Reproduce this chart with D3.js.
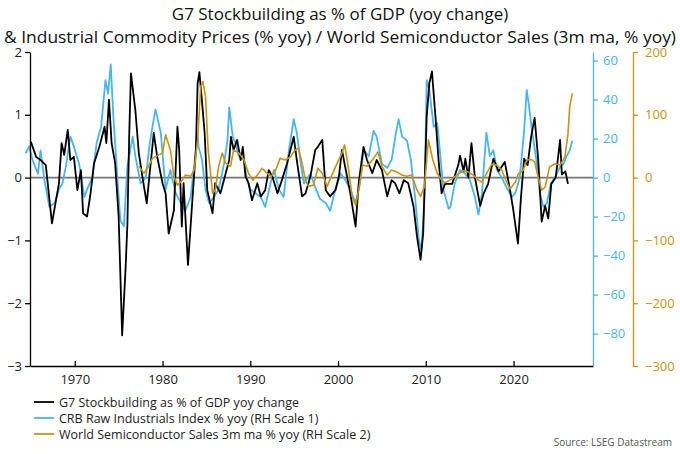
<!DOCTYPE html>
<html>
<head>
<meta charset="utf-8">
<script src="https://cdn.jsdelivr.net/npm/d3@7"></script>
<style>
  body { margin: 0; background: #fff; }
  svg text { font-family: "Open Sans", "Noto Sans", sans-serif; }
</style>
</head>
<body>
<div id="chart"></div>
<script>
// G7 stockbuilding, % of GDP yoy change (left scale)
var stockData = [[1965.0,0.57],[1965.6,0.33],[1966.1,0.28],[1966.7,0.2],[1967.4,-0.73],[1967.8,-0.41],[1968.2,-0.09],[1968.5,0.55],[1968.8,0.36],[1969.2,0.76],[1969.5,0.28],[1969.9,0.33],[1970.3,-0.2],[1970.7,0.12],[1970.95,-0.57],[1971.4,-0.62],[1971.8,-0.25],[1972.2,0.23],[1972.8,0.49],[1973.4,0.81],[1973.6,0.55],[1973.9,1.24],[1974.2,0.55],[1974.6,0.23],[1975.0,-0.62],[1975.4,-2.51],[1975.8,-1.42],[1976.0,-0.73],[1976.2,0.65],[1976.4,1.66],[1976.9,1.08],[1977.3,0.39],[1977.7,0.02],[1978.2,-0.41],[1978.5,0.02],[1979.0,0.71],[1979.4,0.33],[1980.0,-0.09],[1980.35,-0.25],[1980.7,-0.89],[1981.3,-0.52],[1981.7,0.81],[1981.9,0.44],[1982.2,-0.78],[1982.4,-0.09],[1982.9,-1.39],[1983.4,-0.36],[1983.8,0.44],[1984.0,1.5],[1984.2,1.68],[1984.5,1.21],[1984.8,0.71],[1985.1,-0.2],[1985.7,-0.57],[1986.0,-0.09],[1986.6,-0.25],[1987.2,0.07],[1987.6,0.28],[1987.8,0.65],[1988.1,0.44],[1988.5,0.6],[1988.9,0.28],[1989.15,0.49],[1989.45,0.02],[1989.8,-0.09],[1990.2,-0.36],[1990.8,-0.09],[1991.2,-0.3],[1991.7,-0.2],[1992.1,0.12],[1992.5,0.02],[1993.1,-0.25],[1993.6,-0.04],[1994.2,0.23],[1994.95,0.65],[1995.3,0.28],[1995.9,-0.3],[1996.3,-0.25],[1996.85,0.02],[1997.4,0.44],[1997.7,0.49],[1998.2,0.6],[1998.6,-0.2],[1999.1,-0.3],[1999.7,-0.2],[2000.1,0.02],[2000.45,0.44],[2000.8,0.18],[2001.4,-0.25],[2002.0,-0.78],[2002.35,-0.09],[2002.9,0.49],[2003.3,0.28],[2003.9,0.07],[2004.4,0.28],[2005.0,0.12],[2005.6,-0.3],[2006.1,-0.04],[2006.5,-0.09],[2007.0,-0.25],[2007.5,-0.04],[2008.0,-0.09],[2008.6,-0.46],[2009.0,-0.94],[2009.4,-1.31],[2009.7,-0.89],[2010.1,0.97],[2010.4,1.5],[2010.7,1.69],[2011.1,0.97],[2011.45,0.28],[2011.8,-0.25],[2012.2,-0.1],[2013.0,-0.1],[2013.7,0.2],[2013.9,0.35],[2014.3,0.1],[2014.5,0.3],[2014.85,0.0],[2015.2,0.55],[2015.6,0.0],[2016.2,-0.45],[2016.6,-0.25],[2017.1,-0.1],[2017.7,0.3],[2018.3,0.1],[2019.0,0.25],[2019.6,-0.2],[2019.95,-0.5],[2020.5,-1.05],[2020.85,-0.3],[2021.2,0.3],[2021.6,0.2],[2022.0,0.65],[2022.4,0.95],[2022.8,0.3],[2023.2,-0.7],[2023.6,-0.45],[2023.95,-0.65],[2024.3,-0.1],[2024.8,0.0],[2025.3,0.6],[2025.5,0.05],[2025.9,0.1],[2026.2,-0.1]];

// CRB raw industrials, % yoy (RH scale 1)
var crbData = [[1964.4,12.5],[1964.8,16],[1965.2,9],[1965.8,2],[1966.1,14],[1966.5,0],[1967.1,-15],[1967.7,-13],[1968.2,-6],[1968.6,-3],[1969.0,6],[1969.5,21],[1969.9,16],[1970.5,7],[1971.1,-10],[1971.4,-6],[1972.0,0],[1972.5,18],[1973.0,26],[1973.5,50],[1973.8,43],[1974.1,58],[1974.4,31],[1974.9,-3],[1975.2,-22],[1975.6,-25],[1976.0,6],[1976.6,21],[1976.9,11],[1977.5,-3],[1978.1,0],[1978.5,16],[1978.85,26],[1979.2,35],[1979.8,23],[1980.35,-6],[1980.9,4],[1981.5,-8],[1982.1,-13],[1982.6,-17],[1983.2,-10],[1983.8,14],[1984.0,23],[1984.1,16],[1984.5,9],[1984.9,-6],[1985.3,-13],[1985.85,-10],[1986.4,-6],[1987.0,7],[1987.4,19],[1987.6,36],[1988.0,21],[1988.3,18],[1988.7,11],[1989.3,9],[1989.6,0],[1990.0,-6],[1990.6,-8],[1991.2,-10],[1991.7,-15],[1992.3,-3],[1992.7,4],[1993.25,-6],[1993.8,-10],[1994.4,14],[1994.95,30],[1995.3,23],[1995.7,9],[1996.1,-3],[1996.85,2],[1997.4,-5],[1997.95,-11],[1998.6,-13],[1999.1,-17],[1999.7,-6],[2000.3,2],[2000.8,-1],[2001.4,-6],[2002.0,-13],[2002.5,-3],[2002.9,14],[2003.5,11],[2004.05,24],[2004.4,21],[2005.0,7],[2005.6,5],[2006.1,9],[2006.6,23],[2006.9,30],[2007.3,21],[2007.85,19],[2008.3,9],[2008.8,-11],[2009.2,-32],[2009.5,-37],[2009.85,-11],[2010.1,50],[2010.4,45],[2010.9,26],[2011.3,28],[2011.6,14],[2012.0,-6],[2012.6,-16],[2012.8,-15],[2013.3,-3],[2013.9,4],[2014.5,2],[2015.0,-1],[2015.6,-10],[2016.0,-19],[2016.4,-8],[2016.75,14],[2016.9,23],[2017.3,11],[2017.7,14],[2018.1,4],[2018.65,0],[2019.2,-5],[2019.8,-10],[2020.2,-8],[2020.7,0],[2021.2,24],[2021.5,45],[2021.75,37],[2022.1,24],[2022.6,9],[2023.0,-8],[2023.4,-15],[2023.8,-13],[2024.25,-3],[2024.7,0],[2025.3,5.5],[2025.7,7],[2026.05,11],[2026.4,14],[2026.7,19]];

// World semiconductor sales, 3m ma % yoy (RH scale 2)
var semiData = [[1977.3,18],[1977.9,7],[1978.4,18],[1978.85,31],[1979.4,35],[1980.0,39],[1980.35,68],[1980.9,44],[1981.3,2],[1981.7,-12],[1982.25,-4],[1982.6,4],[1983.2,2],[1983.6,12],[1984.0,60],[1984.35,145],[1984.6,153],[1984.9,129],[1985.2,44],[1985.7,-25],[1986.0,-20],[1986.4,18],[1986.8,39],[1987.2,23],[1987.75,18],[1988.1,44],[1988.7,39],[1989.3,28],[1989.8,7],[1990.3,-4],[1990.8,4],[1991.35,15],[1991.9,7],[1992.4,2],[1992.9,12],[1993.4,31],[1994.0,28],[1994.6,33],[1995.1,44],[1995.5,47],[1995.9,23],[1996.3,-5],[1996.65,-14],[1997.2,-12],[1997.7,15],[1998.2,7],[1998.75,-14],[1999.3,4],[1999.9,23],[2000.45,39],[2000.75,52],[2001.1,23],[2001.6,-30],[2002.0,-44],[2002.35,-20],[2002.8,20],[2003.3,18],[2003.9,28],[2004.55,41],[2005.0,18],[2005.6,4],[2006.1,12],[2006.7,9],[2007.3,4],[2007.85,2],[2008.4,4],[2009.0,-20],[2009.4,-30],[2009.85,-14],[2010.3,60],[2010.8,28],[2011.3,7],[2011.8,-4],[2012.2,-8],[2013.0,-2],[2013.7,6],[2014.3,11],[2014.85,9],[2015.4,4],[2016.0,-4],[2016.4,-7],[2016.9,6],[2017.5,21],[2018.1,20],[2018.65,12],[2019.2,-7],[2019.6,-18],[2020.2,-7],[2020.55,6],[2021.1,12],[2021.5,28],[2022.0,29],[2022.4,25],[2022.8,1],[2023.2,-20],[2023.6,-15],[2024.1,17],[2024.7,22],[2025.3,20],[2025.85,33],[2026.2,70],[2026.4,113],[2026.7,134]];

var xTicks = [1970, 1980, 1990, 2000, 2010, 2020];
var leftTicks = [-3, -2, -1, 0, 1, 2];
var crbTicks = [-80, -60, -40, -20, 0, 20, 40, 60];
var semiTicks = [-300, -200, -100, 0, 100, 200];
var legendLabels = ['G7 Stockbuilding as % of GDP yoy change',
                    'CRB Raw Industrials Index % yoy (RH Scale 1)',
                    'World Semiconductor Sales 3m ma % yoy (RH Scale 2)'];

var blackCol = '#000000', blueCol = '#45b6f2', goldCol = '#c9930e';

var svgWidth = 680, svgHeight = 454;
var margin = {top: 52, right: 87, bottom: 88, left: 30};
var width = svgWidth - margin.left - margin.right;
var height = svgHeight - margin.top - margin.bottom;

var svg = d3.select('#chart').append('svg')
    .attr('width', svgWidth).attr('height', svgHeight);

svg.append('text').attr('x', 340).attr('y', 20).attr('text-anchor', 'middle')
    .attr('font-size', 17).attr('fill', '#111').text('G7 Stockbuilding as % of GDP (yoy change)');
svg.append('text').attr('x', 340).attr('y', 43).attr('text-anchor', 'middle')
    .attr('font-size', 15.6).attr('fill', '#111')
    .attr('textLength', 672).attr('lengthAdjust', 'spacingAndGlyphs')
    .text('& Industrial Commodity Prices (% yoy) / World Semiconductor Sales (3m ma, % yoy)');

var chart = svg.append('g').attr('transform', `translate(${margin.left},${margin.top})`);

var x = d3.scaleLinear().domain([1964.9, 2029.05]).range([0, width]);
var yLeft = d3.scaleLinear().domain([-3, 2]).range([height, 0]);
var yCrb = d3.scaleLinear().domain([-3 * 32.2, 2 * 32.2]).range([height, 0]);
var ySemi = d3.scaleLinear().domain([-300, 200]).range([height, 0]);

// zero line
chart.append('line').attr('x1', 0).attr('x2', width)
    .attr('y1', yLeft(0)).attr('y2', yLeft(0))
    .attr('stroke', '#777').attr('stroke-width', 1.6);

function drawLine(data, yScale, col, w) {
    chart.append('path').datum(data)
        .attr('fill', 'none').attr('stroke', col).attr('stroke-width', w)
        .attr('stroke-linejoin', 'round')
        .attr('d', d3.line().x(d => x(d[0])).y(d => yScale(d[1])));
}
drawLine(crbData, yCrb, blueCol, 1.8);
drawLine(stockData, yLeft, blackCol, 1.8);
drawLine(semiData, ySemi, goldCol, 1.6);

// x axis
var xAxis = chart.append('g').attr('transform', `translate(0,${height})`)
    .call(d3.axisBottom(x).tickValues(xTicks).tickFormat(d3.format('d')).tickSizeInner(-5).tickSizeOuter(0).tickPadding(9));
// left axis
var lAxis = chart.append('g')
    .call(d3.axisLeft(yLeft).tickValues(leftTicks).tickFormat(d3.format('d')).tickSizeInner(5).tickSizeOuter(0).tickPadding(3));
// blue right axis
var cAxis = chart.append('g').attr('transform', `translate(${width},0)`)
    .call(d3.axisRight(yCrb).tickValues(crbTicks).tickSizeInner(5).tickSizeOuter(0).tickPadding(5));
// gold right axis
var sAxis = chart.append('g').attr('transform', `translate(${width + 40},0)`)
    .call(d3.axisRight(ySemi).tickValues(semiTicks).tickSizeInner(5).tickSizeOuter(0).tickPadding(7));

[[xAxis, '#000', '#222'], [lAxis, '#000', '#222'], [cAxis, blueCol, blueCol], [sAxis, goldCol, goldCol]].forEach(function(a) {
    a[0].selectAll('path, line').attr('stroke', a[1]).attr('stroke-width', 1.3);
    a[0].selectAll('text').attr('fill', a[2]).attr('font-size', 13)
        .style('font-family', '"Open Sans", "Noto Sans", sans-serif');
});

// legend
var legend = svg.append('g').attr('transform', 'translate(34,402)');
[blackCol, blueCol, goldCol].forEach(function(c, i) {
    legend.append('line').attr('x1', 0).attr('x2', 20).attr('y1', i * 16).attr('y2', i * 16)
        .attr('stroke', c).attr('stroke-width', 1.8);
    legend.append('text').attr('x', 25).attr('y', i * 16 + 4.5).attr('font-size', 12.5)
        .attr('fill', '#222').text(legendLabels[i]);
});

svg.append('text').attr('x', 672).attr('y', 446).attr('text-anchor', 'end')
    .attr('font-size', 10).attr('fill', '#555').text('Source: LSEG Datastream');
</script>
</body>
</html>
